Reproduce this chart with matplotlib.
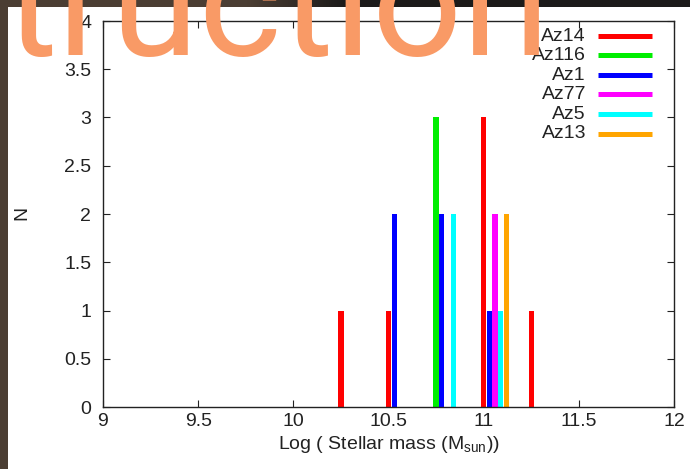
import matplotlib
matplotlib.use('Agg')
import matplotlib.pyplot as plt
import numpy as np

# ---- data ----
bin_centers = [10.25, 10.5, 10.75, 11.0, 11.25]
series_names = ['Az14', 'Az116', 'Az1', 'Az77', 'Az5', 'Az13']
az14_counts = [1, 1, 0, 3, 1]
az116_counts = [0, 0, 3, 0, 0]
az1_counts = [0, 2, 2, 1, 0]
az77_counts = [0, 0, 0, 2, 0]
az5_counts = [0, 0, 2, 1, 0]
az13_counts = [0, 0, 0, 2, 0]
x_ticks = [9, 9.5, 10, 10.5, 11, 11.5, 12]
y_ticks = [0, 0.5, 1, 1.5, 2, 2.5, 3, 3.5, 4]

# ---- style ----
series_colors = ['#ff0000', '#00ee00', '#0000ff', '#ff00ff', '#00ffff', '#ffa500']
series_shift = [0.0, 0.0, 0.03, 0.06, 0.09, 0.12]
bar_width = 0.028
all_counts = [az14_counts, az116_counts, az1_counts, az77_counts, az5_counts, az13_counts]

plt.rcParams['font.family'] = ['Liberation Sans', 'DejaVu Sans']
W, H = 690, 469
fig = plt.figure(figsize=(W / 100, H / 100), dpi=100)
fig.patch.set_facecolor('white')

# background decoration: left brown strip and top band
strip = fig.add_axes([0, 0, 8 / W, 1])
strip.set_facecolor('#4b3e33')
strip.set_xticks([]); strip.set_yticks([])
for s in strip.spines.values():
    s.set_visible(False)

band = fig.add_axes([0, 1 - 7 / H, 1, 7 / H])
grad = np.linspace(0, 1, 256)
c1 = np.array([0x4b, 0x3e, 0x33]) / 255
c2 = np.array([0x1c, 0x1b, 0x1a]) / 255
t = np.clip((grad - 0.36) / 0.14, 0, 1)
img = (c1[None, :] * (1 - t[:, None]) + c2[None, :] * t[:, None])[None, :, :]
band.imshow(img, aspect='auto', extent=[0, 1, 0, 1])
band.set_axis_off()

ax = fig.add_axes([103 / W, (H - 407) / H, (674 - 103) / W, (407 - 21) / H])
for i, (name, cnts) in enumerate(zip(series_names, all_counts)):
    xs = [b + series_shift[i] for b, c in zip(bin_centers, cnts) if c > 0]
    ys = [c for c in cnts if c > 0]
    ax.bar(xs, ys, width=bar_width, color=series_colors[i], linewidth=0, zorder=2)

ax.set_xlim(9, 12)
ax.set_ylim(0, 4)
ax.set_xticks(x_ticks)
ax.set_xticklabels([f'{v:g}' for v in x_ticks])
ax.set_yticks(y_ticks)
ax.set_yticklabels([f'{v:g}' for v in y_ticks])
ax.tick_params(direction='in', length=5, width=0.8, top=True, right=True,
               labelsize=14, colors='#222222', pad=4)
ax.tick_params(axis='y', pad=8.5)
for s in ax.spines.values():
    s.set_linewidth(1.0)
    s.set_color('#222222')

ax.set_xlabel('Log ( Stellar mass (M$_{\\mathregular{sun}}$))', fontsize=14, color='#222222', labelpad=3)
fig.text(22 / W, 1 - 213 / H, 'N', rotation=90, fontsize=14, color='#222222', ha='center', va='center')

# legend (gnuplot style: right-aligned text, sample line to the right)
leg_y = [0.961, 0.911, 0.860, 0.810, 0.759, 0.708]
for i, name in enumerate(series_names):
    ax.text(0.846, leg_y[i], name, transform=ax.transAxes, ha='right', va='center',
            fontsize=14, color='#222222', zorder=5)
    ax.plot([0.867, 0.961], [leg_y[i], leg_y[i]], transform=ax.transAxes,
            color=series_colors[i], lw=3.6, solid_capstyle='butt', zorder=5)

# slide title fragment overlapping the chart
fig.text(550 / W, 1 - 55 / H, 'struction', ha='right', va='baseline', fontsize=114,
         family='Roboto', color='#f99a66', zorder=10)

fig.savefig('out.png', dpi=100)
